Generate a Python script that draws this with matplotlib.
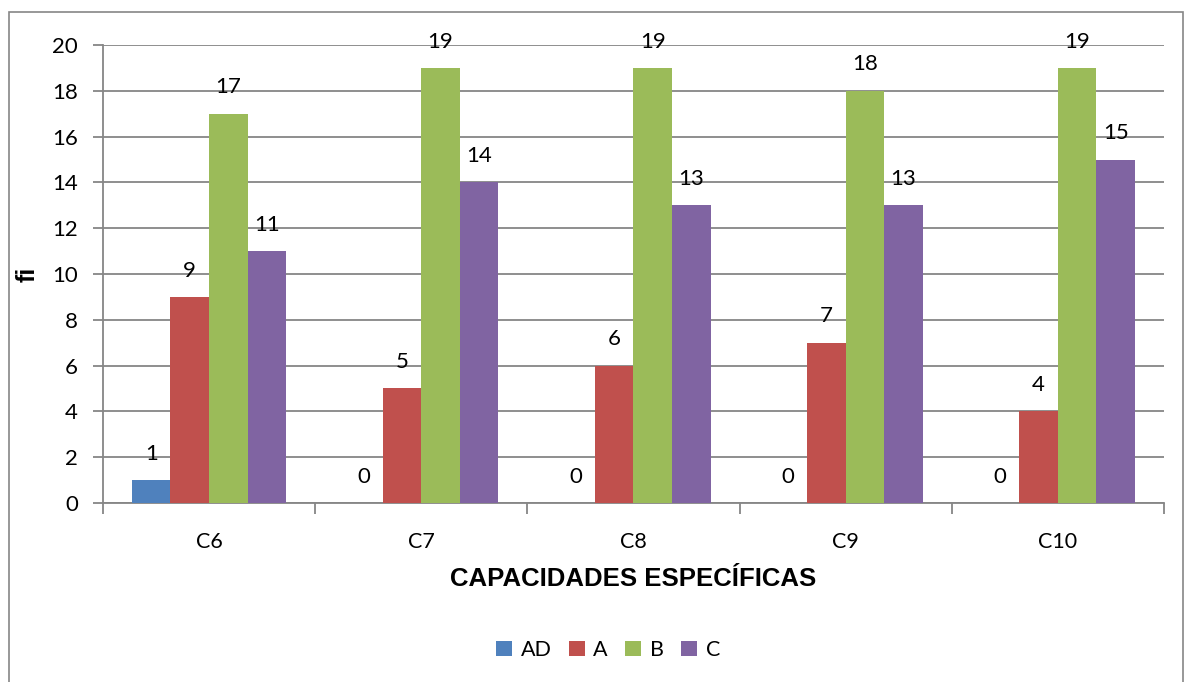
import numpy as np
import matplotlib
matplotlib.use("Agg")
import matplotlib.pyplot as plt
from matplotlib.patches import Rectangle

categories = ["C6", "C7", "C8", "C9", "C10"]
series_names = ["AD", "A", "B", "C"]
ad_vals = [1, 0, 0, 0, 0]
a_vals = [9, 5, 6, 7, 4]
b_vals = [17, 19, 19, 18, 19]
c_vals = [11, 14, 13, 13, 15]
colors = ["#4F81BD", "#C0504D", "#9BBB59", "#8064A2"]

plt.rcParams['font.family'] = ['Lato', 'DejaVu Sans']
grid_col = "#868686"

fig = plt.figure(figsize=(11.84, 6.82), dpi=100)
ax = fig.add_axes([0.087, 0.2625, 0.896, 0.6715])

# outer chart frame
fig.patches.append(Rectangle((0.0076, -0.01), 0.9915, 0.992, transform=fig.transFigure,
                             fill=False, edgecolor=grid_col, linewidth=1.2))

x = np.arange(len(categories))
width = 0.182
all_vals = [ad_vals, a_vals, b_vals, c_vals]
for i, (name, vals, col) in enumerate(zip(series_names, all_vals, colors)):
    pos = x + (i - 1.5) * width
    ax.bar(pos, vals, width, color=col, label=name, zorder=3)
    for px, v in zip(pos, vals):
        ax.annotate(str(v), (px, v), xytext=(0, 19), textcoords="offset points",
                    ha="center", va="center", fontsize=16, zorder=4)

ax.set_xlim(-0.5, len(categories) - 0.5)
ax.set_ylim(0, 20)
ax.set_yticks(np.arange(0, 21, 2))
ax.yaxis.grid(True, color=grid_col, linewidth=1.3, zorder=0)
ax.set_axisbelow(True)

ax.set_xticks(x)
ax.set_xticklabels(categories, fontsize=15.5)
ax.set_xticks(np.arange(-0.5, len(categories), 1), minor=True)
ax.tick_params(axis="x", which="major", length=0, pad=21)
ax.tick_params(axis="x", which="minor", length=8, width=1.3, color=grid_col)
ax.tick_params(axis="y", length=7, width=1.3, color=grid_col, labelsize=16, pad=11)

for s in ["top", "right"]:
    ax.spines[s].set_visible(False)
for s in ["left", "bottom"]:
    ax.spines[s].set_color(grid_col)
    ax.spines[s].set_linewidth(1.3)

ax.set_xlabel("CAPACIDADES ESPECÍFICAS", family=["Liberation Sans", "DejaVu Sans"],
              fontweight="bold", fontsize=18.5, labelpad=11)
ax.set_ylabel("fi", family=["Liberation Sans", "DejaVu Sans"],
              fontweight="bold", fontsize=18, labelpad=9)

ax.legend(loc="center", bbox_to_anchor=(0.5135, 0.047), bbox_transform=fig.transFigure,
          ncol=4, frameon=False, fontsize=15.5, handlelength=0.75, handleheight=0.75,
          handletextpad=0.4, columnspacing=0.8)

fig.savefig("out.png", dpi=100)
